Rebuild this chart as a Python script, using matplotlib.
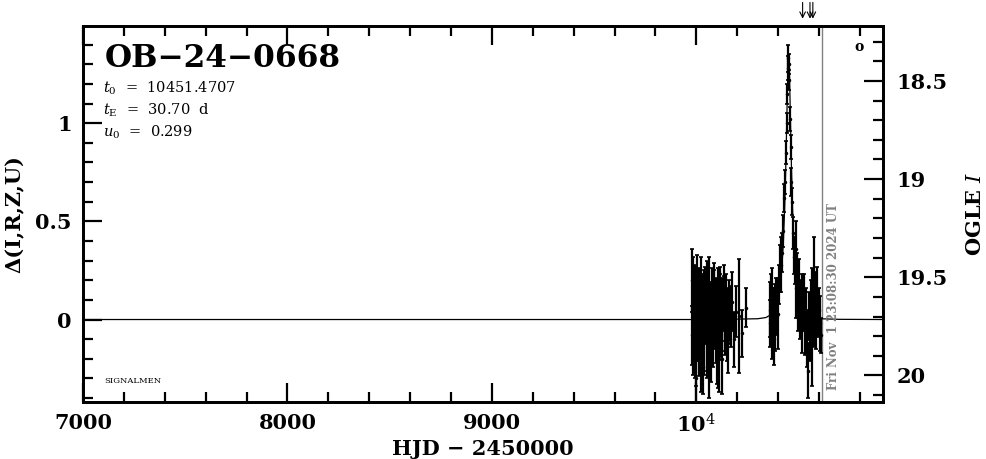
import numpy as np
import matplotlib
matplotlib.use('Agg')
import matplotlib.pyplot as plt
import matplotlib.transforms as mtransforms

# ================================
# DATA
# ================================
event_name = 'OB−24−0668'
t0_txt = '10451.4707'
tE_txt = '30.70'
u0_txt = '0.299'
now_hjd = 10616.46
now_txt = 'Fri Nov  1 23:08:30 2024 UT'
arrow_hjd = [10520, 10556, 10570]
I_base = 19.715

# 2023 season
t_a = [9980, 9983, 9986, 9989, 9992, 9995, 9998, 10001, 10004, 10007, 10010, 10013, 10016, 10019,
       10022, 10025, 10028, 10031, 10034, 10037, 10040, 10044, 10048, 10052, 10056, 10060, 10064,
       10068, 10072, 10076, 10080, 10084, 10088, 10092, 10096, 10100, 10104, 10108, 10112, 10116,
       10120, 10124, 10128, 10133, 10138, 10143, 10148, 10154, 10160, 10168, 10176, 10185, 10195,
       10211, 10225, 10245]
d_a = [0.20, 0.05, -0.10, 0.12, -0.02, 0.08, -0.18, 0.03, 0.15, -0.06, 0.10, -0.12, 0.02, 0.07,
       -0.15, 0.18, -0.04, 0.05, -0.24, 0.09, -0.08, 0.13, 0.00, -0.10, 0.06, 0.16, -0.05, 0.02,
       -0.14, 0.11, 0.04, -0.08, 0.14, -0.02, 0.07, -0.16, 0.10, -0.15, 0.03, 0.12, -0.06, 0.05,
       -0.20, 0.08, -0.03, 0.10, 0.00, -0.12, 0.06, -0.02, 0.09, -0.10, 0.04, 0.02, -0.07, 0.06]
e_a = [0.16, 0.14, 0.18, 0.15, 0.12, 0.20, 0.16, 0.14, 0.18, 0.15, 0.13, 0.17, 0.12, 0.16,
       0.22, 0.14, 0.15, 0.13, 0.14, 0.16, 0.18, 0.14, 0.12, 0.20, 0.15, 0.16, 0.13, 0.14,
       0.18, 0.15, 0.12, 0.16, 0.15, 0.13, 0.14, 0.17, 0.16, 0.20, 0.14, 0.15, 0.13, 0.16,
       0.18, 0.14, 0.15, 0.13, 0.16, 0.15, 0.14, 0.12, 0.15, 0.14, 0.13, 0.29, 0.12, 0.10]

# 2023 season, extra frames
t_a2 = [9981, 9985, 9990, 9994, 9997, 10000, 10003, 10009, 10015, 10021, 10027, 10033, 10039,
        10046, 10054, 10062, 10070, 10078, 10086, 10094, 10102, 10110, 10118, 10126, 10136,
        10150, 10164]
d_a2 = [-0.08, 0.14, 0.02, -0.14, 0.10, -0.30, 0.06, -0.04, 0.12, -0.10, 0.08, 0.00, -0.12,
        0.07, 0.15, -0.22, 0.05, -0.04, 0.10, -0.08, 0.02, -0.20, 0.09, -0.01, 0.12,
        -0.06, 0.03]
e_a2 = [0.15, 0.18, 0.14, 0.16, 0.14, 0.12, 0.15, 0.17, 0.14, 0.16, 0.15, 0.13, 0.16,
        0.14, 0.15, 0.18, 0.14, 0.16, 0.15, 0.14, 0.16, 0.17, 0.14, 0.15, 0.16,
        0.15, 0.14]

# 2024 season: rise
t_b = [10358, 10361, 10363, 10366, 10368, 10371, 10373, 10376, 10379, 10381, 10384, 10387,
       10390, 10394, 10398, 10403, 10408, 10413, 10417]
d_b = [0.05, -0.02, 0.08, 0.03, -0.08, 0.12, 0.00, 0.06, -0.10, 0.04, 0.08, -0.04,
       0.10, 0.02, 0.03, 0.18, 0.26, 0.28, 0.34]
e_b = [0.14, 0.12, 0.15, 0.10, 0.12, 0.14, 0.11, 0.10, 0.13, 0.12, 0.10, 0.12,
       0.11, 0.10, 0.18, 0.10, 0.12, 0.14, 0.10]

# peak
t_c = [10424, 10430, 10436, 10439, 10442, 10445, 10448, 10450, 10452, 10455, 10458, 10461,
       10464, 10467, 10472, 10477]
d_c = [0.45, 0.62, 0.70, 0.85, 1.00, 1.15, 1.28, 1.33, 1.30, 1.22, 1.02, 0.88,
       0.70, 0.60, 0.44, 0.32]
e_c = [0.08, 0.07, 0.06, 0.06, 0.05, 0.05, 0.06, 0.07, 0.05, 0.05, 0.06, 0.06,
       0.07, 0.07, 0.08, 0.09]

# decline
t_d = [10482, 10486, 10490, 10493, 10496, 10499, 10502, 10505, 10508, 10511, 10515, 10519,
       10523, 10527, 10531, 10536, 10541, 10545, 10550, 10555, 10560, 10565, 10570, 10575,
       10579, 10583, 10587, 10591, 10595, 10600, 10606, 10612]
d_d = [0.30, 0.36, 0.16, 0.22, 0.08, 0.12, 0.18, 0.02, 0.10, 0.06, -0.04, 0.12,
       0.04, 0.09, -0.06, 0.05, -0.10, -0.26, 0.02, -0.05, 0.08, -0.04, 0.00, 0.14,
       0.06, 0.10, -0.02, 0.12, 0.03, 0.05, -0.02, -0.08]
e_d = [0.12, 0.14, 0.15, 0.12, 0.14, 0.11, 0.13, 0.12, 0.10, 0.12, 0.13, 0.11,
       0.10, 0.14, 0.12, 0.11, 0.14, 0.14, 0.12, 0.16, 0.12, 0.30, 0.13, 0.28,
       0.12, 0.14, 0.13, 0.15, 0.12, 0.11, 0.14, 0.09]

# model curve
model_t = [7000, 10000, 10200, 10300, 10340, 10370, 10390, 10405, 10415, 10425, 10432, 10438,
           10443, 10447, 10451.5, 10456, 10460, 10465, 10471, 10478, 10488, 10498, 10513,
           10533, 10563, 10603, 10700, 10913]
model_d = [0.0, 0.0, 0.002, 0.004, 0.010, 0.027, 0.062, 0.127, 0.214, 0.374, 0.560, 0.792,
           1.039, 1.238, 1.346, 1.238, 1.039, 0.792, 0.560, 0.374, 0.214, 0.127, 0.062,
           0.027, 0.010, 0.004, 0.001, 0.0]

x_ticks = [7000, 8000, 9000, 10000]
x_ticklabels = ['7000', '8000', '9000', r'10$^4$']
y_ticks = [0, 0.5, 1]
y_ticklabels = ['0', '0.5', '1']
mag_ticks = [18.5, 19, 19.5, 20]
mag_ticklabels = ['18.5', '19', '19.5', '20']

# ================================
# PLOT
# ================================
plt.rcParams['font.family'] = ['DejaVu Serif']
plt.rcParams['mathtext.fontset'] = 'dejavuserif'

fig = plt.figure(figsize=(9.86, 4.59), dpi=100)
ax = fig.add_axes([0.0842, 0.1242, 0.8113, 0.8192])

xlo, xhi = 7000, 10913
ylo, yhi = -0.42, 1.495
ax.set_xlim(xlo, xhi)
ax.set_ylim(ylo, yhi)

ax.plot(model_t, model_d, color='black', lw=0.9, zorder=2)

t_all = t_a + t_a2 + t_b + t_c + t_d
d_all = d_a + d_a2 + d_b + d_c + d_d
e_all = e_a + e_a2 + e_b + e_c + e_d
ax.errorbar(t_all, d_all, yerr=e_all, fmt='.', color='black', ms=3,
            elinewidth=1.6, capsize=1.5, capthick=1.2, zorder=3)

ax.axvline(now_hjd, color='grey', lw=1.0, zorder=1)
ax.annotate(now_txt, xy=(now_hjd, -0.36), xytext=(3, 0), textcoords='offset points',
            rotation=90, ha='left', va='bottom', color='grey', fontsize=8.5,
            fontweight='bold')

# alert arrows above the frame
trans = mtransforms.blended_transform_factory(ax.transData, ax.transAxes)
for t in arrow_hjd:
    ax.annotate('', xy=(t, 1.012), xycoords=trans, xytext=(t, 1.07), textcoords=trans,
                arrowprops=dict(arrowstyle='->', lw=0.8, color='black'),
                annotation_clip=False)

ax.text(0.027, 0.955, event_name, transform=ax.transAxes, fontsize=22.5,
        fontweight='bold', va='top', ha='left')
ax.text(0.025, 0.835, r'$t_0$  =  ' + t0_txt, transform=ax.transAxes, fontsize=10.5,
        va='center', ha='left')
ax.text(0.025, 0.775, r'$t_{\rm E}$  =  ' + tE_txt + '  d', transform=ax.transAxes,
        fontsize=10.5, va='center', ha='left')
ax.text(0.025, 0.717, r'$u_0$  =  ' + u0_txt, transform=ax.transAxes, fontsize=10.5,
        va='center', ha='left')
ax.text(0.027, 0.055, 'SIGNALMEN', transform=ax.transAxes, fontsize=6, va='center', ha='left')
ax.text(0.97, 0.945, 'o', transform=ax.transAxes, fontsize=10, fontweight='bold',
        va='center', ha='center')

ax.set_xticks(x_ticks)
ax.set_xticklabels(x_ticklabels)
ax.set_xticks(np.arange(7000, 10913, 200), minor=True)
ax.set_yticks(y_ticks)
ax.set_yticklabels(y_ticklabels)
ax.set_yticks(np.arange(-0.4, 1.5, 0.1), minor=True)
ax.tick_params(axis='x', which='both', direction='in', top=True, bottom=True)
ax.tick_params(axis='y', which='both', direction='in', left=True, right=False)
ax.tick_params(which='major', length=14, width=1.6, labelsize=15, pad=8)
ax.tick_params(which='minor', length=7, width=1.6)
for lab in ax.get_xticklabels() + ax.get_yticklabels():
    lab.set_fontweight('bold')
for sp in ax.spines.values():
    sp.set_linewidth(2.0)

ax.set_xlabel('HJD − 2450000', fontsize=15, fontweight='bold', labelpad=2)
ax.set_ylabel('Δ(I,R,Z,U)', fontsize=15, fontweight='bold', labelpad=8)

# OGLE I magnitude on the right
ax2 = ax.twinx()
ax2.set_ylim(I_base - ylo, I_base - yhi)
ax2.set_yticks(mag_ticks)
ax2.set_yticklabels(mag_ticklabels)
ax2.set_yticks(np.arange(18.3, 20.15, 0.1), minor=True)
ax2.tick_params(axis='y', which='both', direction='in', right=True, left=False)
ax2.tick_params(which='major', length=14, width=1.6, labelsize=15, pad=10)
ax2.tick_params(which='minor', length=7, width=1.6)
for lab in ax2.get_yticklabels():
    lab.set_fontweight('bold')
for sp in ax2.spines.values():
    sp.set_linewidth(2.0)
ax2.set_ylabel(r'OGLE $I$', fontsize=15, fontweight='bold', labelpad=12)

fig.savefig('out.png', dpi=100)
